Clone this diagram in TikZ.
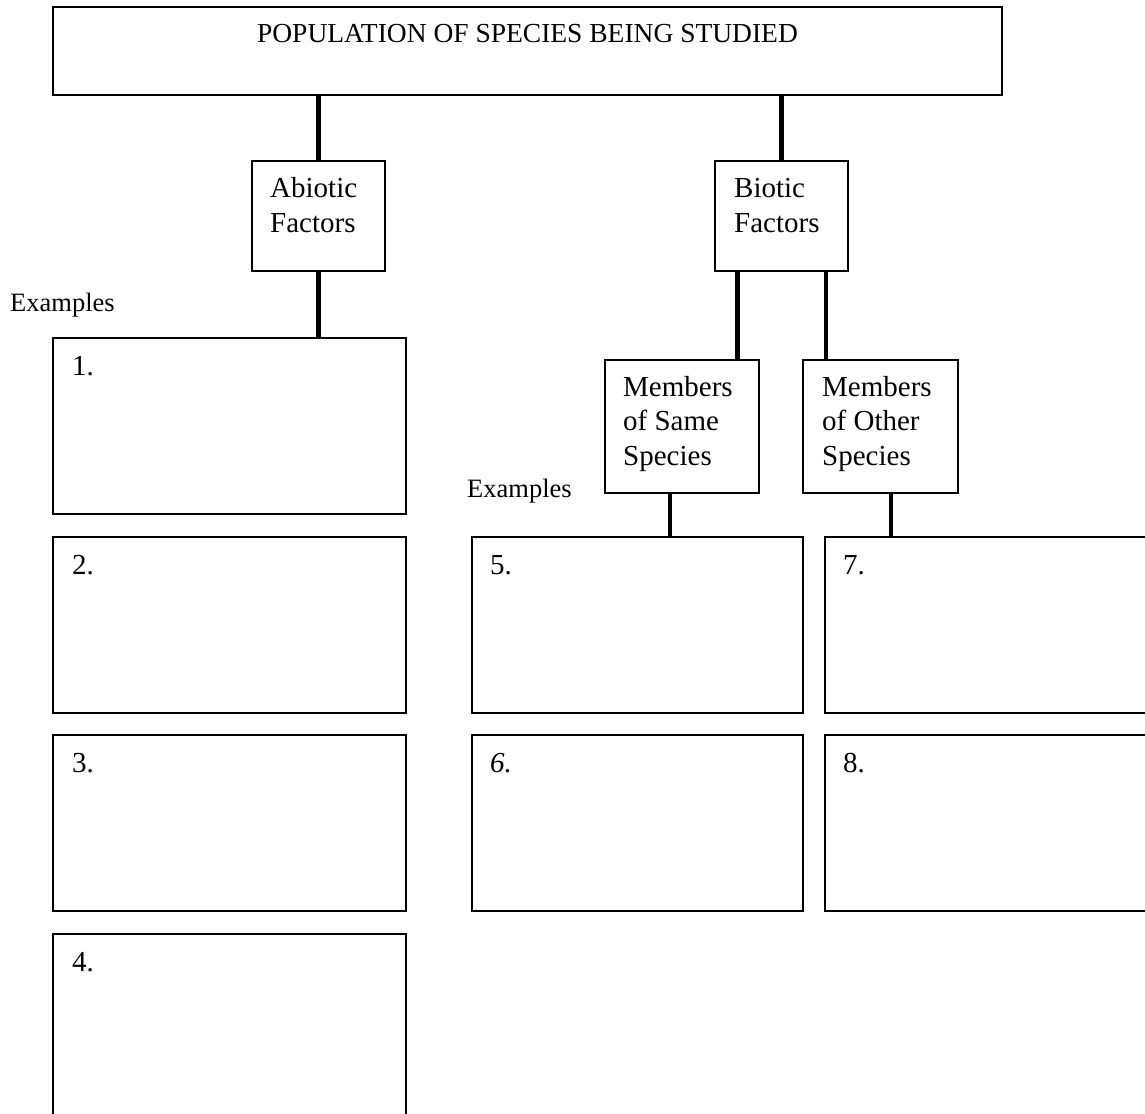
\documentclass[tikz,border=0pt]{standalone}
\usepackage{fontspec}
\setmainfont{Liberation Serif}
\begin{document}
\begin{tikzpicture}[x=1pt,y=-1pt,
  box/.style={draw, line width=1.8pt, inner sep=0pt},
  conn/.style={line width=4.8pt},
  lbl/.style={inner sep=0pt, anchor=base west, font=\fontsize{29}{34.5}\selectfont, align=left},
  num/.style={inner sep=0pt, anchor=base west, font=\fontsize{29}{34}\selectfont},
  ex/.style={inner sep=0pt, anchor=base west, font=\fontsize{26.5}{30}\selectfont}]
\useasboundingbox (0,0) rectangle (1145,1113);
\fill[white] (0,0) rectangle (1145,1113);
\clip (0,0) rectangle (1145,1113);
% boxes
\node[box, minimum width=949pt, minimum height=88pt] (title) at (527.5,51) {};
\node[box, minimum width=133pt, minimum height=110pt] (abiotic) at (318.5,216) {};
\node[box, minimum width=133pt, minimum height=110pt] (biotic) at (781.5,216) {};
\node[box, minimum width=154pt, minimum height=133pt] (same) at (682,426.5) {};
\node[box, minimum width=155pt, minimum height=133pt] (other) at (880.5,426.5) {};
\node[box, minimum width=353pt, minimum height=176pt] (b1) at (229.5,426) {};
\node[box, minimum width=353pt, minimum height=176pt] (b2) at (229.5,625) {};
\node[box, minimum width=353pt, minimum height=176pt] (b3) at (229.5,823) {};
\node[box, minimum width=353pt, minimum height=196pt] (b4) at (229.5,1032) {};
\node[box, minimum width=331pt, minimum height=176pt] (b5) at (637.5,625) {};
\node[box, minimum width=331pt, minimum height=176pt] (b6) at (637.5,823) {};
\node[box, minimum width=340pt, minimum height=176pt] (b7) at (995,625) {};
\node[box, minimum width=340pt, minimum height=176pt] (b8) at (995,823) {};
% connectors
\draw[conn] (title.south -| abiotic.north) -- (abiotic.north);
\draw[conn] (title.south -| biotic.north) -- (biotic.north);
\draw[conn] (abiotic.south) -- (abiotic.south |- b1.north);
\coordinate (bl) at ([xshift=23pt]biotic.south west);
\coordinate (br) at ([xshift=-23pt]biotic.south east);
\draw[conn] (bl) -- (bl |- same.north);
\draw[conn] (br) -- (br |- other.north);
\coordinate (sl) at ([xshift=-12pt]same.south);
\coordinate (or) at ([xshift=10.5pt]other.south);
\draw[conn] (sl) -- (sl |- b5.north);
\draw[conn] (or) -- (or |- b7.north);
% texts
\node[inner sep=0pt, anchor=base, font=\fontsize{27.5}{32}\selectfont] (ttl) at (527.5,43) {POPULATION OF SPECIES BEING STUDIED};
\node[lbl] (tab) at (270,232) {Abiotic\\Factors};
\node[lbl] (tbi) at (734,232) {Biotic\\Factors};
\node[lbl] (tsa) at (623,465) {Members\\of Same\\Species};
\node[lbl] (tot) at (822,465) {Members\\of Other\\Species};
\node[ex] (ex1) at (10,311) {Examples};
\node[ex] (ex2) at (467,497) {Examples};
\node[num] (n1) at (72,375) {1.};
\node[num] (n2) at (72,574) {2.};
\node[num] (n3) at (72,772) {3.};
\node[num] (n4) at (72,971) {4.};
\node[num] (n5) at (490,574) {5.};
\node[num] (n6) at (490,772) {\textit{6.}};
\node[num] (n7) at (843,574) {7.};
\node[num] (n8) at (843,772) {8.};
\end{tikzpicture}
\end{document}
